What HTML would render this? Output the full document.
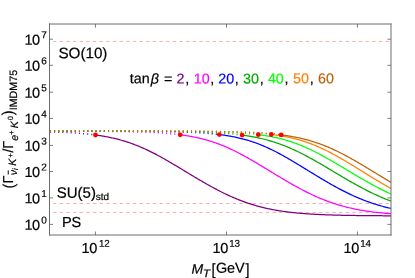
<!DOCTYPE html>
<html><head><meta charset="utf-8"><title>plot</title>
<style>
html,body{margin:0;padding:0;background:#fff;width:415px;height:278px;overflow:hidden;}
body{width:415px;height:278px;position:relative;overflow:hidden;font-family:"Liberation Sans",sans-serif;color:#000;}
.t{position:absolute;white-space:nowrap;line-height:1;font-size:14px;text-rendering:geometricPrecision;-webkit-text-stroke:0.2px;}
</style></head><body>
<svg width="415" height="278" viewBox="0 0 415 278" style="position:absolute;left:0;top:0">
<defs><clipPath id="c"><rect x="49.50" y="24.00" width="341.50" height="211.00"/></clipPath></defs>
<path d="M46.45 41.45 H389.80" stroke="#ff4040" stroke-width="0.45" stroke-dasharray="3.3 3.35" fill="none" clip-path="url(#c)"/>
<path d="M46.45 203.5 H389.80" stroke="#ff4040" stroke-width="0.45" stroke-dasharray="3.3 3.35" fill="none" clip-path="url(#c)"/>
<path d="M46.45 212.45 H389.80" stroke="#ff4040" stroke-width="0.45" stroke-dasharray="3.3 3.35" fill="none" clip-path="url(#c)"/>
<g clip-path="url(#c)" fill="none" stroke-width="1.25" stroke-linejoin="round">
<path d="M49.50 131.87 L50.50 131.90 L51.50 131.93 L52.50 131.96 L53.50 131.99 L54.50 132.02 L55.50 132.06 L56.50 132.09 L57.50 132.13 L58.50 132.16 L59.50 132.20 L60.50 132.24 L61.50 132.28 L62.50 132.33 L63.50 132.37 L64.50 132.42 L65.50 132.47 L66.50 132.52 L67.50 132.57 L68.50 132.62 L69.50 132.68 L70.50 132.73 L71.50 132.79 L72.50 132.85 L73.50 132.92 L74.50 132.98 L75.50 133.05 L76.50 133.12 L77.50 133.19 L78.50 133.27 L79.50 133.34 L80.50 133.42 L81.50 133.51 L82.50 133.59 L83.50 133.68 L84.50 133.77 L85.50 133.87 L86.50 133.96 L87.50 134.07 L88.50 134.17 L89.50 134.28 L90.50 134.39 L91.50 134.50 L92.50 134.62 L93.50 134.75 L94.50 134.87 L95.50 135.01 L95.50 135.01" stroke="#800080" stroke-width="1.5" stroke-dasharray="1.05 3.1" stroke-dashoffset="-0.4"/>
<path d="M49.50 131.11 L50.50 131.11 L51.50 131.11 L52.50 131.11 L53.50 131.11 L54.50 131.11 L55.50 131.12 L56.50 131.12 L57.50 131.12 L58.50 131.12 L59.50 131.12 L60.50 131.13 L61.50 131.13 L62.50 131.13 L63.50 131.13 L64.50 131.13 L65.50 131.14 L66.50 131.14 L67.50 131.14 L68.50 131.14 L69.50 131.15 L70.50 131.15 L71.50 131.15 L72.50 131.15 L73.50 131.16 L74.50 131.16 L75.50 131.16 L76.50 131.17 L77.50 131.17 L78.50 131.17 L79.50 131.18 L80.50 131.18 L81.50 131.19 L82.50 131.19 L83.50 131.19 L84.50 131.20 L85.50 131.20 L86.50 131.21 L87.50 131.21 L88.50 131.22 L89.50 131.22 L90.50 131.23 L91.50 131.23 L92.50 131.24 L93.50 131.25 L94.50 131.25 L95.50 131.26 L96.50 131.27 L97.50 131.27 L98.50 131.28 L99.50 131.29 L100.50 131.30 L101.50 131.30 L102.50 131.31 L103.50 131.32 L104.50 131.33 L105.50 131.34 L106.50 131.35 L107.50 131.36 L108.50 131.37 L109.50 131.38 L110.50 131.39 L111.50 131.40 L112.50 131.42 L113.50 131.43 L114.50 131.44 L115.50 131.45 L116.50 131.47 L117.50 131.48 L118.50 131.50 L119.50 131.51 L120.50 131.53 L121.50 131.54 L122.50 131.56 L123.50 131.58 L124.50 131.60 L125.50 131.62 L126.50 131.64 L127.50 131.66 L128.50 131.68 L129.50 131.70 L130.50 131.72 L131.50 131.74 L132.50 131.77 L133.50 131.79 L134.50 131.82 L135.50 131.85 L136.50 131.87 L137.50 131.90 L138.50 131.93 L139.50 131.96 L140.50 132.00 L141.50 132.03 L142.50 132.06 L143.50 132.10 L144.50 132.13 L145.50 132.17 L146.50 132.21 L147.50 132.25 L148.50 132.30 L149.50 132.34 L150.50 132.39 L151.50 132.43 L152.50 132.48 L153.50 132.53 L154.50 132.58 L155.50 132.64 L156.50 132.69 L157.50 132.75 L158.50 132.81 L159.50 132.87 L160.50 132.94 L161.50 133.01 L162.50 133.07 L163.50 133.15 L164.50 133.22 L165.50 133.30 L166.50 133.38 L167.50 133.46 L168.50 133.54 L169.50 133.63 L170.50 133.72 L171.50 133.82 L172.50 133.91 L173.50 134.01 L174.50 134.12 L175.50 134.23 L176.50 134.34 L177.50 134.45 L178.50 134.57 L179.50 134.70 L180.20 134.78" stroke="#ff00ff" stroke-width="1.5" stroke-dasharray="1.05 3.1" stroke-dashoffset="-0.4"/>
<path d="M49.50 131.08 L50.50 131.08 L51.50 131.08 L52.50 131.08 L53.50 131.08 L54.50 131.08 L55.50 131.08 L56.50 131.08 L57.50 131.08 L58.50 131.08 L59.50 131.08 L60.50 131.08 L61.50 131.08 L62.50 131.08 L63.50 131.08 L64.50 131.08 L65.50 131.09 L66.50 131.09 L67.50 131.09 L68.50 131.09 L69.50 131.09 L70.50 131.09 L71.50 131.09 L72.50 131.09 L73.50 131.09 L74.50 131.09 L75.50 131.09 L76.50 131.09 L77.50 131.09 L78.50 131.09 L79.50 131.09 L80.50 131.10 L81.50 131.10 L82.50 131.10 L83.50 131.10 L84.50 131.10 L85.50 131.10 L86.50 131.10 L87.50 131.10 L88.50 131.10 L89.50 131.11 L90.50 131.11 L91.50 131.11 L92.50 131.11 L93.50 131.11 L94.50 131.11 L95.50 131.11 L96.50 131.12 L97.50 131.12 L98.50 131.12 L99.50 131.12 L100.50 131.12 L101.50 131.12 L102.50 131.13 L103.50 131.13 L104.50 131.13 L105.50 131.13 L106.50 131.13 L107.50 131.14 L108.50 131.14 L109.50 131.14 L110.50 131.14 L111.50 131.15 L112.50 131.15 L113.50 131.15 L114.50 131.15 L115.50 131.16 L116.50 131.16 L117.50 131.16 L118.50 131.17 L119.50 131.17 L120.50 131.17 L121.50 131.18 L122.50 131.18 L123.50 131.19 L124.50 131.19 L125.50 131.20 L126.50 131.20 L127.50 131.20 L128.50 131.21 L129.50 131.21 L130.50 131.22 L131.50 131.22 L132.50 131.23 L133.50 131.24 L134.50 131.24 L135.50 131.25 L136.50 131.25 L137.50 131.26 L138.50 131.27 L139.50 131.27 L140.50 131.28 L141.50 131.29 L142.50 131.30 L143.50 131.31 L144.50 131.31 L145.50 131.32 L146.50 131.33 L147.50 131.34 L148.50 131.35 L149.50 131.36 L150.50 131.37 L151.50 131.38 L152.50 131.39 L153.50 131.41 L154.50 131.42 L155.50 131.43 L156.50 131.44 L157.50 131.46 L158.50 131.47 L159.50 131.49 L160.50 131.50 L161.50 131.52 L162.50 131.53 L163.50 131.55 L164.50 131.57 L165.50 131.58 L166.50 131.60 L167.50 131.62 L168.50 131.64 L169.50 131.66 L170.50 131.68 L171.50 131.71 L172.50 131.73 L173.50 131.75 L174.50 131.78 L175.50 131.80 L176.50 131.83 L177.50 131.86 L178.50 131.88 L179.50 131.91 L180.50 131.94 L181.50 131.98 L182.50 132.01 L183.50 132.04 L184.50 132.08 L185.50 132.11 L186.50 132.15 L187.50 132.19 L188.50 132.23 L189.50 132.27 L190.50 132.32 L191.50 132.36 L192.50 132.41 L193.50 132.46 L194.50 132.51 L195.50 132.56 L196.50 132.62 L197.50 132.67 L198.50 132.73 L199.50 132.79 L200.50 132.85 L201.50 132.92 L202.50 132.98 L203.50 133.05 L204.50 133.13 L205.50 133.20 L206.50 133.28 L207.50 133.36 L208.50 133.44 L209.50 133.53 L210.50 133.62 L211.50 133.71 L212.50 133.80 L213.50 133.90 L214.50 134.01 L215.50 134.11 L216.50 134.22 L217.50 134.34 L218.50 134.45 L219.30 134.55" stroke="#0000ff" stroke-width="1.5" stroke-dasharray="1.05 3.1" stroke-dashoffset="-0.4"/>
<path d="M49.50 131.07 L50.50 131.08 L51.50 131.08 L52.50 131.08 L53.50 131.08 L54.50 131.08 L55.50 131.08 L56.50 131.08 L57.50 131.08 L58.50 131.08 L59.50 131.08 L60.50 131.08 L61.50 131.08 L62.50 131.08 L63.50 131.08 L64.50 131.08 L65.50 131.08 L66.50 131.08 L67.50 131.08 L68.50 131.08 L69.50 131.08 L70.50 131.08 L71.50 131.08 L72.50 131.08 L73.50 131.08 L74.50 131.08 L75.50 131.08 L76.50 131.08 L77.50 131.08 L78.50 131.08 L79.50 131.08 L80.50 131.08 L81.50 131.08 L82.50 131.09 L83.50 131.09 L84.50 131.09 L85.50 131.09 L86.50 131.09 L87.50 131.09 L88.50 131.09 L89.50 131.09 L90.50 131.09 L91.50 131.09 L92.50 131.09 L93.50 131.09 L94.50 131.09 L95.50 131.09 L96.50 131.10 L97.50 131.10 L98.50 131.10 L99.50 131.10 L100.50 131.10 L101.50 131.10 L102.50 131.10 L103.50 131.10 L104.50 131.10 L105.50 131.10 L106.50 131.11 L107.50 131.11 L108.50 131.11 L109.50 131.11 L110.50 131.11 L111.50 131.11 L112.50 131.11 L113.50 131.12 L114.50 131.12 L115.50 131.12 L116.50 131.12 L117.50 131.12 L118.50 131.12 L119.50 131.13 L120.50 131.13 L121.50 131.13 L122.50 131.13 L123.50 131.14 L124.50 131.14 L125.50 131.14 L126.50 131.14 L127.50 131.15 L128.50 131.15 L129.50 131.15 L130.50 131.15 L131.50 131.16 L132.50 131.16 L133.50 131.16 L134.50 131.17 L135.50 131.17 L136.50 131.17 L137.50 131.18 L138.50 131.18 L139.50 131.18 L140.50 131.19 L141.50 131.19 L142.50 131.20 L143.50 131.20 L144.50 131.21 L145.50 131.21 L146.50 131.22 L147.50 131.22 L148.50 131.23 L149.50 131.23 L150.50 131.24 L151.50 131.24 L152.50 131.25 L153.50 131.26 L154.50 131.26 L155.50 131.27 L156.50 131.28 L157.50 131.29 L158.50 131.29 L159.50 131.30 L160.50 131.31 L161.50 131.32 L162.50 131.33 L163.50 131.34 L164.50 131.35 L165.50 131.36 L166.50 131.37 L167.50 131.38 L168.50 131.39 L169.50 131.40 L170.50 131.41 L171.50 131.42 L172.50 131.44 L173.50 131.45 L174.50 131.46 L175.50 131.48 L176.50 131.49 L177.50 131.50 L178.50 131.52 L179.50 131.54 L180.50 131.55 L181.50 131.57 L182.50 131.59 L183.50 131.61 L184.50 131.63 L185.50 131.65 L186.50 131.67 L187.50 131.69 L188.50 131.71 L189.50 131.73 L190.50 131.75 L191.50 131.78 L192.50 131.80 L193.50 131.83 L194.50 131.86 L195.50 131.89 L196.50 131.91 L197.50 131.94 L198.50 131.98 L199.50 132.01 L200.50 132.04 L201.50 132.07 L202.50 132.11 L203.50 132.15 L204.50 132.19 L205.50 132.22 L206.50 132.27 L207.50 132.31 L208.50 132.35 L209.50 132.40 L210.50 132.44 L211.50 132.49 L212.50 132.54 L213.50 132.59 L214.50 132.65 L215.50 132.70 L216.50 132.76 L217.50 132.82 L218.50 132.88 L219.50 132.94 L220.50 133.01 L221.50 133.08 L222.50 133.15 L223.50 133.22 L224.50 133.29 L225.50 133.37 L226.50 133.45 L227.50 133.53 L228.50 133.62 L229.50 133.71 L230.50 133.80 L231.50 133.89 L232.50 133.99 L233.50 134.09 L234.50 134.19 L235.50 134.30 L236.50 134.41 L237.50 134.52 L238.50 134.64 L239.50 134.76 L240.50 134.89 L241.50 135.02 L242.10 135.10" stroke="#00aa00" stroke-width="1.5" stroke-dasharray="1.05 3.1" stroke-dashoffset="-0.4"/>
<path d="M49.50 131.07 L50.50 131.07 L51.50 131.07 L52.50 131.07 L53.50 131.07 L54.50 131.07 L55.50 131.07 L56.50 131.07 L57.50 131.07 L58.50 131.07 L59.50 131.07 L60.50 131.07 L61.50 131.07 L62.50 131.07 L63.50 131.07 L64.50 131.07 L65.50 131.07 L66.50 131.07 L67.50 131.07 L68.50 131.07 L69.50 131.07 L70.50 131.07 L71.50 131.07 L72.50 131.08 L73.50 131.08 L74.50 131.08 L75.50 131.08 L76.50 131.08 L77.50 131.08 L78.50 131.08 L79.50 131.08 L80.50 131.08 L81.50 131.08 L82.50 131.08 L83.50 131.08 L84.50 131.08 L85.50 131.08 L86.50 131.08 L87.50 131.08 L88.50 131.08 L89.50 131.08 L90.50 131.08 L91.50 131.08 L92.50 131.08 L93.50 131.08 L94.50 131.08 L95.50 131.08 L96.50 131.08 L97.50 131.08 L98.50 131.08 L99.50 131.08 L100.50 131.08 L101.50 131.08 L102.50 131.08 L103.50 131.09 L104.50 131.09 L105.50 131.09 L106.50 131.09 L107.50 131.09 L108.50 131.09 L109.50 131.09 L110.50 131.09 L111.50 131.09 L112.50 131.09 L113.50 131.09 L114.50 131.09 L115.50 131.09 L116.50 131.09 L117.50 131.10 L118.50 131.10 L119.50 131.10 L120.50 131.10 L121.50 131.10 L122.50 131.10 L123.50 131.10 L124.50 131.10 L125.50 131.10 L126.50 131.10 L127.50 131.11 L128.50 131.11 L129.50 131.11 L130.50 131.11 L131.50 131.11 L132.50 131.11 L133.50 131.11 L134.50 131.12 L135.50 131.12 L136.50 131.12 L137.50 131.12 L138.50 131.12 L139.50 131.12 L140.50 131.13 L141.50 131.13 L142.50 131.13 L143.50 131.13 L144.50 131.13 L145.50 131.14 L146.50 131.14 L147.50 131.14 L148.50 131.14 L149.50 131.15 L150.50 131.15 L151.50 131.15 L152.50 131.16 L153.50 131.16 L154.50 131.16 L155.50 131.17 L156.50 131.17 L157.50 131.17 L158.50 131.18 L159.50 131.18 L160.50 131.18 L161.50 131.19 L162.50 131.19 L163.50 131.20 L164.50 131.20 L165.50 131.21 L166.50 131.21 L167.50 131.22 L168.50 131.22 L169.50 131.23 L170.50 131.23 L171.50 131.24 L172.50 131.24 L173.50 131.25 L174.50 131.26 L175.50 131.26 L176.50 131.27 L177.50 131.28 L178.50 131.28 L179.50 131.29 L180.50 131.30 L181.50 131.31 L182.50 131.32 L183.50 131.33 L184.50 131.34 L185.50 131.34 L186.50 131.35 L187.50 131.37 L188.50 131.38 L189.50 131.39 L190.50 131.40 L191.50 131.41 L192.50 131.42 L193.50 131.43 L194.50 131.45 L195.50 131.46 L196.50 131.48 L197.50 131.49 L198.50 131.50 L199.50 131.52 L200.50 131.54 L201.50 131.55 L202.50 131.57 L203.50 131.59 L204.50 131.61 L205.50 131.63 L206.50 131.65 L207.50 131.67 L208.50 131.69 L209.50 131.71 L210.50 131.73 L211.50 131.76 L212.50 131.78 L213.50 131.81 L214.50 131.83 L215.50 131.86 L216.50 131.89 L217.50 131.92 L218.50 131.95 L219.50 131.98 L220.50 132.02 L221.50 132.05 L222.50 132.08 L223.50 132.12 L224.50 132.16 L225.50 132.20 L226.50 132.24 L227.50 132.28 L228.50 132.32 L229.50 132.37 L230.50 132.42 L231.50 132.47 L232.50 132.52 L233.50 132.57 L234.50 132.62 L235.50 132.68 L236.50 132.74 L237.50 132.79 L238.50 132.86 L239.50 132.92 L240.50 132.99 L241.50 133.06 L242.50 133.13 L243.50 133.20 L244.50 133.28 L245.50 133.36 L246.50 133.44 L247.50 133.52 L248.50 133.61 L249.50 133.70 L250.50 133.80 L251.50 133.90 L252.50 134.00 L253.50 134.10 L254.50 134.21 L255.50 134.32 L256.50 134.44 L257.50 134.56 L258.30 134.66" stroke="#00ff00" stroke-width="1.5" stroke-dasharray="1.05 3.1" stroke-dashoffset="-0.4"/>
<path d="M49.50 131.07 L50.50 131.07 L51.50 131.07 L52.50 131.07 L53.50 131.07 L54.50 131.07 L55.50 131.07 L56.50 131.07 L57.50 131.07 L58.50 131.07 L59.50 131.07 L60.50 131.07 L61.50 131.07 L62.50 131.07 L63.50 131.07 L64.50 131.07 L65.50 131.07 L66.50 131.07 L67.50 131.07 L68.50 131.07 L69.50 131.07 L70.50 131.07 L71.50 131.07 L72.50 131.07 L73.50 131.07 L74.50 131.07 L75.50 131.07 L76.50 131.07 L77.50 131.07 L78.50 131.07 L79.50 131.07 L80.50 131.07 L81.50 131.07 L82.50 131.07 L83.50 131.07 L84.50 131.07 L85.50 131.07 L86.50 131.08 L87.50 131.08 L88.50 131.08 L89.50 131.08 L90.50 131.08 L91.50 131.08 L92.50 131.08 L93.50 131.08 L94.50 131.08 L95.50 131.08 L96.50 131.08 L97.50 131.08 L98.50 131.08 L99.50 131.08 L100.50 131.08 L101.50 131.08 L102.50 131.08 L103.50 131.08 L104.50 131.08 L105.50 131.08 L106.50 131.08 L107.50 131.08 L108.50 131.08 L109.50 131.08 L110.50 131.08 L111.50 131.08 L112.50 131.08 L113.50 131.08 L114.50 131.08 L115.50 131.08 L116.50 131.08 L117.50 131.09 L118.50 131.09 L119.50 131.09 L120.50 131.09 L121.50 131.09 L122.50 131.09 L123.50 131.09 L124.50 131.09 L125.50 131.09 L126.50 131.09 L127.50 131.09 L128.50 131.09 L129.50 131.09 L130.50 131.09 L131.50 131.09 L132.50 131.10 L133.50 131.10 L134.50 131.10 L135.50 131.10 L136.50 131.10 L137.50 131.10 L138.50 131.10 L139.50 131.10 L140.50 131.10 L141.50 131.10 L142.50 131.11 L143.50 131.11 L144.50 131.11 L145.50 131.11 L146.50 131.11 L147.50 131.11 L148.50 131.11 L149.50 131.12 L150.50 131.12 L151.50 131.12 L152.50 131.12 L153.50 131.12 L154.50 131.13 L155.50 131.13 L156.50 131.13 L157.50 131.13 L158.50 131.13 L159.50 131.14 L160.50 131.14 L161.50 131.14 L162.50 131.14 L163.50 131.15 L164.50 131.15 L165.50 131.15 L166.50 131.15 L167.50 131.16 L168.50 131.16 L169.50 131.16 L170.50 131.17 L171.50 131.17 L172.50 131.17 L173.50 131.18 L174.50 131.18 L175.50 131.19 L176.50 131.19 L177.50 131.19 L178.50 131.20 L179.50 131.20 L180.50 131.21 L181.50 131.21 L182.50 131.22 L183.50 131.22 L184.50 131.23 L185.50 131.23 L186.50 131.24 L187.50 131.25 L188.50 131.25 L189.50 131.26 L190.50 131.27 L191.50 131.27 L192.50 131.28 L193.50 131.29 L194.50 131.30 L195.50 131.30 L196.50 131.31 L197.50 131.32 L198.50 131.33 L199.50 131.34 L200.50 131.35 L201.50 131.36 L202.50 131.37 L203.50 131.38 L204.50 131.39 L205.50 131.40 L206.50 131.41 L207.50 131.43 L208.50 131.44 L209.50 131.45 L210.50 131.47 L211.50 131.48 L212.50 131.50 L213.50 131.51 L214.50 131.53 L215.50 131.54 L216.50 131.56 L217.50 131.58 L218.50 131.60 L219.50 131.62 L220.50 131.64 L221.50 131.66 L222.50 131.68 L223.50 131.70 L224.50 131.72 L225.50 131.74 L226.50 131.77 L227.50 131.79 L228.50 131.82 L229.50 131.85 L230.50 131.88 L231.50 131.90 L232.50 131.93 L233.50 131.97 L234.50 132.00 L235.50 132.03 L236.50 132.07 L237.50 132.10 L238.50 132.14 L239.50 132.18 L240.50 132.22 L241.50 132.26 L242.50 132.30 L243.50 132.35 L244.50 132.39 L245.50 132.44 L246.50 132.49 L247.50 132.54 L248.50 132.59 L249.50 132.65 L250.50 132.71 L251.50 132.77 L252.50 132.83 L253.50 132.89 L254.50 132.96 L255.50 133.02 L256.50 133.09 L257.50 133.17 L258.50 133.24 L259.50 133.32 L260.50 133.40 L261.50 133.49 L262.50 133.57 L263.50 133.66 L264.50 133.76 L265.50 133.85 L266.50 133.95 L267.50 134.06 L268.50 134.16 L269.50 134.28 L270.50 134.39 L271.30 134.48" stroke="#ff8000" stroke-width="1.5" stroke-dasharray="1.05 3.1" stroke-dashoffset="-0.4"/>
<path d="M49.50 131.07 L50.50 131.07 L51.50 131.07 L52.50 131.07 L53.50 131.07 L54.50 131.07 L55.50 131.07 L56.50 131.07 L57.50 131.07 L58.50 131.07 L59.50 131.07 L60.50 131.07 L61.50 131.07 L62.50 131.07 L63.50 131.07 L64.50 131.07 L65.50 131.07 L66.50 131.07 L67.50 131.07 L68.50 131.07 L69.50 131.07 L70.50 131.07 L71.50 131.07 L72.50 131.07 L73.50 131.07 L74.50 131.07 L75.50 131.07 L76.50 131.07 L77.50 131.07 L78.50 131.07 L79.50 131.07 L80.50 131.07 L81.50 131.07 L82.50 131.07 L83.50 131.07 L84.50 131.07 L85.50 131.07 L86.50 131.07 L87.50 131.07 L88.50 131.07 L89.50 131.07 L90.50 131.07 L91.50 131.08 L92.50 131.08 L93.50 131.08 L94.50 131.08 L95.50 131.08 L96.50 131.08 L97.50 131.08 L98.50 131.08 L99.50 131.08 L100.50 131.08 L101.50 131.08 L102.50 131.08 L103.50 131.08 L104.50 131.08 L105.50 131.08 L106.50 131.08 L107.50 131.08 L108.50 131.08 L109.50 131.08 L110.50 131.08 L111.50 131.08 L112.50 131.08 L113.50 131.08 L114.50 131.08 L115.50 131.08 L116.50 131.08 L117.50 131.08 L118.50 131.08 L119.50 131.08 L120.50 131.08 L121.50 131.08 L122.50 131.09 L123.50 131.09 L124.50 131.09 L125.50 131.09 L126.50 131.09 L127.50 131.09 L128.50 131.09 L129.50 131.09 L130.50 131.09 L131.50 131.09 L132.50 131.09 L133.50 131.09 L134.50 131.09 L135.50 131.09 L136.50 131.09 L137.50 131.10 L138.50 131.10 L139.50 131.10 L140.50 131.10 L141.50 131.10 L142.50 131.10 L143.50 131.10 L144.50 131.10 L145.50 131.10 L146.50 131.10 L147.50 131.11 L148.50 131.11 L149.50 131.11 L150.50 131.11 L151.50 131.11 L152.50 131.11 L153.50 131.11 L154.50 131.12 L155.50 131.12 L156.50 131.12 L157.50 131.12 L158.50 131.12 L159.50 131.13 L160.50 131.13 L161.50 131.13 L162.50 131.13 L163.50 131.13 L164.50 131.14 L165.50 131.14 L166.50 131.14 L167.50 131.14 L168.50 131.15 L169.50 131.15 L170.50 131.15 L171.50 131.15 L172.50 131.16 L173.50 131.16 L174.50 131.16 L175.50 131.17 L176.50 131.17 L177.50 131.17 L178.50 131.18 L179.50 131.18 L180.50 131.19 L181.50 131.19 L182.50 131.19 L183.50 131.20 L184.50 131.20 L185.50 131.21 L186.50 131.21 L187.50 131.22 L188.50 131.22 L189.50 131.23 L190.50 131.23 L191.50 131.24 L192.50 131.25 L193.50 131.25 L194.50 131.26 L195.50 131.27 L196.50 131.27 L197.50 131.28 L198.50 131.29 L199.50 131.29 L200.50 131.30 L201.50 131.31 L202.50 131.32 L203.50 131.33 L204.50 131.34 L205.50 131.35 L206.50 131.36 L207.50 131.37 L208.50 131.38 L209.50 131.39 L210.50 131.40 L211.50 131.41 L212.50 131.42 L213.50 131.44 L214.50 131.45 L215.50 131.46 L216.50 131.48 L217.50 131.49 L218.50 131.51 L219.50 131.52 L220.50 131.54 L221.50 131.56 L222.50 131.57 L223.50 131.59 L224.50 131.61 L225.50 131.63 L226.50 131.65 L227.50 131.67 L228.50 131.69 L229.50 131.71 L230.50 131.74 L231.50 131.76 L232.50 131.78 L233.50 131.81 L234.50 131.84 L235.50 131.86 L236.50 131.89 L237.50 131.92 L238.50 131.95 L239.50 131.98 L240.50 132.01 L241.50 132.05 L242.50 132.08 L243.50 132.12 L244.50 132.15 L245.50 132.19 L246.50 132.23 L247.50 132.27 L248.50 132.32 L249.50 132.36 L250.50 132.41 L251.50 132.45 L252.50 132.50 L253.50 132.55 L254.50 132.60 L255.50 132.66 L256.50 132.71 L257.50 132.77 L258.50 132.83 L259.50 132.89 L260.50 132.96 L261.50 133.02 L262.50 133.09 L263.50 133.16 L264.50 133.24 L265.50 133.31 L266.50 133.39 L267.50 133.47 L268.50 133.55 L269.50 133.64 L270.50 133.73 L271.50 133.82 L272.50 133.92 L273.50 134.02 L274.50 134.12 L275.50 134.22 L276.50 134.33 L277.50 134.44 L278.50 134.56 L279.50 134.68 L280.50 134.80 L281.20 134.89" stroke="#b8620c" stroke-width="1.5" stroke-dasharray="1.05 3.1" stroke-dashoffset="-0.4"/>
<path d="M95.50 135.01 L96.50 135.14 L97.50 135.28 L98.50 135.43 L99.50 135.57 L100.50 135.73 L101.50 135.89 L102.50 136.05 L103.50 136.22 L104.50 136.39 L105.50 136.57 L106.50 136.76 L107.50 136.95 L108.50 137.14 L109.50 137.35 L110.50 137.55 L111.50 137.77 L112.50 137.99 L113.50 138.21 L114.50 138.45 L115.50 138.69 L116.50 138.93 L117.50 139.18 L118.50 139.44 L119.50 139.71 L120.50 139.98 L121.50 140.26 L122.50 140.55 L123.50 140.85 L124.50 141.15 L125.50 141.46 L126.50 141.78 L127.50 142.10 L128.50 142.43 L129.50 142.77 L130.50 143.12 L131.50 143.47 L132.50 143.83 L133.50 144.20 L134.50 144.58 L135.50 144.96 L136.50 145.36 L137.50 145.76 L138.50 146.16 L139.50 146.58 L140.50 147.00 L141.50 147.43 L142.50 147.86 L143.50 148.31 L144.50 148.76 L145.50 149.22 L146.50 149.68 L147.50 150.15 L148.50 150.63 L149.50 151.11 L150.50 151.60 L151.50 152.10 L152.50 152.60 L153.50 153.11 L154.50 153.62 L155.50 154.14 L156.50 154.67 L157.50 155.20 L158.50 155.74 L159.50 156.28 L160.50 156.82 L161.50 157.37 L162.50 157.93 L163.50 158.49 L164.50 159.05 L165.50 159.62 L166.50 160.19 L167.50 160.76 L168.50 161.34 L169.50 161.92 L170.50 162.50 L171.50 163.09 L172.50 163.68 L173.50 164.27 L174.50 164.86 L175.50 165.46 L176.50 166.06 L177.50 166.66 L178.50 167.26 L179.50 167.86 L180.50 168.46 L181.50 169.07 L182.50 169.67 L183.50 170.28 L184.50 170.88 L185.50 171.49 L186.50 172.09 L187.50 172.70 L188.50 173.30 L189.50 173.91 L190.50 174.51 L191.50 175.12 L192.50 175.72 L193.50 176.32 L194.50 176.92 L195.50 177.51 L196.50 178.11 L197.50 178.70 L198.50 179.30 L199.50 179.89 L200.50 180.47 L201.50 181.06 L202.50 181.64 L203.50 182.22 L204.50 182.80 L205.50 183.37 L206.50 183.94 L207.50 184.50 L208.50 185.07 L209.50 185.63 L210.50 186.18 L211.50 186.73 L212.50 187.28 L213.50 187.82 L214.50 188.36 L215.50 188.89 L216.50 189.42 L217.50 189.94 L218.50 190.46 L219.50 190.98 L220.50 191.48 L221.50 191.99 L222.50 192.49 L223.50 192.98 L224.50 193.47 L225.50 193.95 L226.50 194.42 L227.50 194.89 L228.50 195.36 L229.50 195.81 L230.50 196.27 L231.50 196.71 L232.50 197.15 L233.50 197.58 L234.50 198.01 L235.50 198.43 L236.50 198.85 L237.50 199.25 L238.50 199.66 L239.50 200.05 L240.50 200.44 L241.50 200.82 L242.50 201.20 L243.50 201.57 L244.50 201.93 L245.50 202.29 L246.50 202.64 L247.50 202.98 L248.50 203.32 L249.50 203.65 L250.50 203.97 L251.50 204.29 L252.50 204.60 L253.50 204.90 L254.50 205.20 L255.50 205.49 L256.50 205.78 L257.50 206.06 L258.50 206.33 L259.50 206.60 L260.50 206.86 L261.50 207.12 L262.50 207.37 L263.50 207.61 L264.50 207.85 L265.50 208.08 L266.50 208.31 L267.50 208.53 L268.50 208.75 L269.50 208.96 L270.50 209.16 L271.50 209.36 L272.50 209.56 L273.50 209.75 L274.50 209.93 L275.50 210.11 L276.50 210.29 L277.50 210.46 L278.50 210.63 L279.50 210.79 L280.50 210.95 L281.50 211.10 L282.50 211.25 L283.50 211.39 L284.50 211.53 L285.50 211.67 L286.50 211.80 L287.50 211.93 L288.50 212.06 L289.50 212.18 L290.50 212.30 L291.50 212.41 L292.50 212.52 L293.50 212.63 L294.50 212.74 L295.50 212.84 L296.50 212.94 L297.50 213.03 L298.50 213.13 L299.50 213.22 L300.50 213.30 L301.50 213.39 L302.50 213.47 L303.50 213.55 L304.50 213.63 L305.50 213.70 L306.50 213.77 L307.50 213.84 L308.50 213.91 L309.50 213.98 L310.50 214.04 L311.50 214.10 L312.50 214.16 L313.50 214.22 L314.50 214.27 L315.50 214.33 L316.50 214.38 L317.50 214.43 L318.50 214.48 L319.50 214.53 L320.50 214.57 L321.50 214.62 L322.50 214.66 L323.50 214.70 L324.50 214.74 L325.50 214.78 L326.50 214.82 L327.50 214.86 L328.50 214.89 L329.50 214.93 L330.50 214.96 L331.50 214.99 L332.50 215.02 L333.50 215.05 L334.50 215.08 L335.50 215.11 L336.50 215.13 L337.50 215.16 L338.50 215.19 L339.50 215.21 L340.50 215.23 L341.50 215.26 L342.50 215.28 L343.50 215.30 L344.50 215.32 L345.50 215.34 L346.50 215.36 L347.50 215.38 L348.50 215.39 L349.50 215.41 L350.50 215.43 L351.50 215.44 L352.50 215.46 L353.50 215.48 L354.50 215.49 L355.50 215.50 L356.50 215.52 L357.50 215.53 L358.50 215.54 L359.50 215.56 L360.50 215.57 L361.50 215.58 L362.50 215.59 L363.50 215.60 L364.50 215.61 L365.50 215.62 L366.50 215.63 L367.50 215.64 L368.50 215.65 L369.50 215.66 L370.50 215.67 L371.50 215.67 L372.50 215.68 L373.50 215.69 L374.50 215.70 L375.50 215.70 L376.50 215.71 L377.50 215.72 L378.50 215.72 L379.50 215.73 L380.50 215.73 L381.50 215.74 L382.50 215.75 L383.50 215.75 L384.50 215.76 L385.50 215.76 L386.50 215.77 L387.50 215.77 L388.50 215.78 L389.50 215.78 L390.50 215.78 L391.50 215.79" stroke="#800080"/>
<path d="M180.20 134.78 L181.20 134.91 L182.20 135.05 L183.20 135.19 L184.20 135.33 L185.20 135.48 L186.20 135.63 L187.20 135.79 L188.20 135.96 L189.20 136.12 L190.20 136.30 L191.20 136.48 L192.20 136.66 L193.20 136.85 L194.20 137.05 L195.20 137.25 L196.20 137.46 L197.20 137.68 L198.20 137.90 L199.20 138.13 L200.20 138.36 L201.20 138.60 L202.20 138.85 L203.20 139.11 L204.20 139.37 L205.20 139.64 L206.20 139.91 L207.20 140.20 L208.20 140.49 L209.20 140.79 L210.20 141.10 L211.20 141.41 L212.20 141.73 L213.20 142.06 L214.20 142.40 L215.20 142.74 L216.20 143.10 L217.20 143.46 L218.20 143.82 L219.20 144.20 L220.20 144.58 L221.20 144.98 L222.20 145.38 L223.20 145.78 L224.20 146.20 L225.20 146.62 L226.20 147.05 L227.20 147.49 L228.20 147.93 L229.20 148.38 L230.20 148.84 L231.20 149.31 L232.20 149.78 L233.20 150.26 L234.20 150.75 L235.20 151.24 L236.20 151.74 L237.20 152.25 L238.20 152.76 L239.20 153.28 L240.20 153.80 L241.20 154.33 L242.20 154.86 L243.20 155.40 L244.20 155.95 L245.20 156.50 L246.20 157.05 L247.20 157.61 L248.20 158.17 L249.20 158.74 L250.20 159.31 L251.20 159.89 L252.20 160.46 L253.20 161.05 L254.20 161.63 L255.20 162.22 L256.20 162.81 L257.20 163.40 L258.20 164.00 L259.20 164.60 L260.20 165.20 L261.20 165.80 L262.20 166.40 L263.20 167.01 L264.20 167.61 L265.20 168.22 L266.20 168.83 L267.20 169.43 L268.20 170.04 L269.20 170.65 L270.20 171.26 L271.20 171.87 L272.20 172.48 L273.20 173.09 L274.20 173.70 L275.20 174.30 L276.20 174.91 L277.20 175.51 L278.20 176.12 L279.20 176.72 L280.20 177.32 L281.20 177.92 L282.20 178.51 L283.20 179.11 L284.20 179.70 L285.20 180.29 L286.20 180.88 L287.20 181.46 L288.20 182.04 L289.20 182.62 L290.20 183.20 L291.20 183.77 L292.20 184.34 L293.20 184.90 L294.20 185.46 L295.20 186.02 L296.20 186.57 L297.20 187.12 L298.20 187.66 L299.20 188.20 L300.20 188.73 L301.20 189.26 L302.20 189.79 L303.20 190.31 L304.20 190.82 L305.20 191.33 L306.20 191.84 L307.20 192.34 L308.20 192.83 L309.20 193.32 L310.20 193.80 L311.20 194.28 L312.20 194.75 L313.20 195.22 L314.20 195.67 L315.20 196.13 L316.20 196.57 L317.20 197.02 L318.20 197.45 L319.20 197.88 L320.20 198.30 L321.20 198.72 L322.20 199.13 L323.20 199.53 L324.20 199.93 L325.20 200.32 L326.20 200.70 L327.20 201.08 L328.20 201.45 L329.20 201.81 L330.20 202.17 L331.20 202.52 L332.20 202.86 L333.20 203.20 L334.20 203.53 L335.20 203.86 L336.20 204.18 L337.20 204.49 L338.20 204.80 L339.20 205.10 L340.20 205.39 L341.20 205.68 L342.20 205.96 L343.20 206.23 L344.20 206.50 L345.20 206.77 L346.20 207.02 L347.20 207.28 L348.20 207.52 L349.20 207.76 L350.20 208.00 L351.20 208.22 L352.20 208.45 L353.20 208.66 L354.20 208.88 L355.20 209.08 L356.20 209.29 L357.20 209.48 L358.20 209.67 L359.20 209.86 L360.20 210.04 L361.20 210.22 L362.20 210.39 L363.20 210.56 L364.20 210.72 L365.20 210.88 L366.20 211.04 L367.20 211.19 L368.20 211.33 L369.20 211.48 L370.20 211.61 L371.20 211.75 L372.20 211.88 L373.20 212.01 L374.20 212.13 L375.20 212.25 L376.20 212.36 L377.20 212.48 L378.20 212.59 L379.20 212.69 L380.20 212.79 L381.20 212.89 L382.20 212.99 L383.20 213.09 L384.20 213.18 L385.20 213.26 L386.20 213.35 L387.20 213.43 L388.20 213.51 L389.20 213.59 L390.20 213.67 L391.20 213.74" stroke="#ff00ff"/>
<path d="M219.30 134.55 L220.30 134.68 L221.30 134.81 L222.30 134.94 L223.30 135.08 L224.30 135.22 L225.30 135.37 L226.30 135.52 L227.30 135.68 L228.30 135.85 L229.30 136.02 L230.30 136.19 L231.30 136.37 L232.30 136.56 L233.30 136.75 L234.30 136.95 L235.30 137.16 L236.30 137.37 L237.30 137.59 L238.30 137.81 L239.30 138.04 L240.30 138.28 L241.30 138.53 L242.30 138.78 L243.30 139.04 L244.30 139.31 L245.30 139.59 L246.30 139.87 L247.30 140.16 L248.30 140.46 L249.30 140.77 L250.30 141.08 L251.30 141.40 L252.30 141.73 L253.30 142.07 L254.30 142.42 L255.30 142.77 L256.30 143.14 L257.30 143.51 L258.30 143.89 L259.30 144.28 L260.30 144.67 L261.30 145.08 L262.30 145.49 L263.30 145.91 L264.30 146.34 L265.30 146.77 L266.30 147.21 L267.30 147.67 L268.30 148.12 L269.30 148.59 L270.30 149.06 L271.30 149.54 L272.30 150.03 L273.30 150.52 L274.30 151.03 L275.30 151.53 L276.30 152.05 L277.30 152.57 L278.30 153.09 L279.30 153.62 L280.30 154.16 L281.30 154.70 L282.30 155.25 L283.30 155.81 L284.30 156.36 L285.30 156.93 L286.30 157.49 L287.30 158.06 L288.30 158.64 L289.30 159.22 L290.30 159.80 L291.30 160.39 L292.30 160.98 L293.30 161.57 L294.30 162.17 L295.30 162.77 L296.30 163.37 L297.30 163.97 L298.30 164.57 L299.30 165.18 L300.30 165.79 L301.30 166.40 L302.30 167.01 L303.30 167.62 L304.30 168.23 L305.30 168.85 L306.30 169.46 L307.30 170.08 L308.30 170.69 L309.30 171.30 L310.30 171.92 L311.30 172.53 L312.30 173.14 L313.30 173.75 L314.30 174.37 L315.30 174.97 L316.30 175.58 L317.30 176.19 L318.30 176.79 L319.30 177.40 L320.30 178.00 L321.30 178.60 L322.30 179.19 L323.30 179.79 L324.30 180.38 L325.30 180.97 L326.30 181.55 L327.30 182.13 L328.30 182.71 L329.30 183.29 L330.30 183.86 L331.30 184.43 L332.30 184.99 L333.30 185.55 L334.30 186.11 L335.30 186.66 L336.30 187.21 L337.30 187.75 L338.30 188.29 L339.30 188.83 L340.30 189.36 L341.30 189.88 L342.30 190.40 L343.30 190.91 L344.30 191.42 L345.30 191.93 L346.30 192.42 L347.30 192.92 L348.30 193.40 L349.30 193.88 L350.30 194.36 L351.30 194.83 L352.30 195.29 L353.30 195.75 L354.30 196.20 L355.30 196.64 L356.30 197.08 L357.30 197.52 L358.30 197.94 L359.30 198.36 L360.30 198.78 L361.30 199.18 L362.30 199.59 L363.30 199.98 L364.30 200.37 L365.30 200.75 L366.30 201.12 L367.30 201.49 L368.30 201.86 L369.30 202.21 L370.30 202.56 L371.30 202.90 L372.30 203.24 L373.30 203.57 L374.30 203.89 L375.30 204.21 L376.30 204.52 L377.30 204.83 L378.30 205.13 L379.30 205.42 L380.30 205.70 L381.30 205.98 L382.30 206.26 L383.30 206.53 L384.30 206.79 L385.30 207.04 L386.30 207.29 L387.30 207.54 L388.30 207.78 L389.30 208.01 L390.30 208.24 L391.30 208.46" stroke="#0000ff"/>
<path d="M242.10 135.10 L243.10 135.23 L244.10 135.37 L245.10 135.52 L246.10 135.67 L247.10 135.82 L248.10 135.98 L249.10 136.14 L250.10 136.31 L251.10 136.48 L252.10 136.66 L253.10 136.84 L254.10 137.03 L255.10 137.23 L256.10 137.43 L257.10 137.63 L258.10 137.84 L259.10 138.06 L260.10 138.28 L261.10 138.51 L262.10 138.75 L263.10 138.99 L264.10 139.24 L265.10 139.49 L266.10 139.75 L267.10 140.02 L268.10 140.30 L269.10 140.58 L270.10 140.87 L271.10 141.16 L272.10 141.46 L273.10 141.77 L274.10 142.09 L275.10 142.41 L276.10 142.74 L277.10 143.08 L278.10 143.42 L279.10 143.77 L280.10 144.13 L281.10 144.50 L282.10 144.87 L283.10 145.25 L284.10 145.64 L285.10 146.04 L286.10 146.44 L287.10 146.85 L288.10 147.26 L289.10 147.69 L290.10 148.12 L291.10 148.55 L292.10 149.00 L293.10 149.45 L294.10 149.90 L295.10 150.37 L296.10 150.83 L297.10 151.31 L298.10 151.79 L299.10 152.28 L300.10 152.77 L301.10 153.27 L302.10 153.78 L303.10 154.29 L304.10 154.80 L305.10 155.32 L306.10 155.85 L307.10 156.38 L308.10 156.92 L309.10 157.46 L310.10 158.00 L311.10 158.55 L312.10 159.10 L313.10 159.66 L314.10 160.22 L315.10 160.78 L316.10 161.35 L317.10 161.92 L318.10 162.49 L319.10 163.07 L320.10 163.65 L321.10 164.23 L322.10 164.81 L323.10 165.40 L324.10 165.99 L325.10 166.57 L326.10 167.16 L327.10 167.76 L328.10 168.35 L329.10 168.94 L330.10 169.54 L331.10 170.13 L332.10 170.73 L333.10 171.33 L334.10 171.92 L335.10 172.52 L336.10 173.12 L337.10 173.71 L338.10 174.31 L339.10 174.90 L340.10 175.50 L341.10 176.09 L342.10 176.68 L343.10 177.27 L344.10 177.86 L345.10 178.44 L346.10 179.03 L347.10 179.61 L348.10 180.19 L349.10 180.77 L350.10 181.34 L351.10 181.91 L352.10 182.48 L353.10 183.05 L354.10 183.61 L355.10 184.17 L356.10 184.73 L357.10 185.28 L358.10 185.83 L359.10 186.38 L360.10 186.92 L361.10 187.46 L362.10 187.99 L363.10 188.52 L364.10 189.04 L365.10 189.56 L366.10 190.08 L367.10 190.59 L368.10 191.09 L369.10 191.59 L370.10 192.09 L371.10 192.58 L372.10 193.06 L373.10 193.54 L374.10 194.01 L375.10 194.48 L376.10 194.94 L377.10 195.40 L378.10 195.85 L379.10 196.30 L380.10 196.74 L381.10 197.17 L382.10 197.60 L383.10 198.02 L384.10 198.43 L385.10 198.84 L386.10 199.24 L387.10 199.64 L388.10 200.03 L389.10 200.41 L390.10 200.79 L391.10 201.16" stroke="#00aa00"/>
<path d="M258.30 134.66 L259.30 134.78 L260.30 134.91 L261.30 135.05 L262.30 135.19 L263.30 135.34 L264.30 135.49 L265.30 135.64 L266.30 135.80 L267.30 135.97 L268.30 136.14 L269.30 136.31 L270.30 136.50 L271.30 136.68 L272.30 136.88 L273.30 137.08 L274.30 137.28 L275.30 137.49 L276.30 137.71 L277.30 137.94 L278.30 138.17 L279.30 138.41 L280.30 138.65 L281.30 138.91 L282.30 139.16 L283.30 139.43 L284.30 139.71 L285.30 139.99 L286.30 140.28 L287.30 140.57 L288.30 140.88 L289.30 141.19 L290.30 141.51 L291.30 141.83 L292.30 142.17 L293.30 142.51 L294.30 142.86 L295.30 143.22 L296.30 143.59 L297.30 143.96 L298.30 144.34 L299.30 144.73 L300.30 145.13 L301.30 145.53 L302.30 145.95 L303.30 146.37 L304.30 146.80 L305.30 147.23 L306.30 147.67 L307.30 148.12 L308.30 148.58 L309.30 149.04 L310.30 149.52 L311.30 149.99 L312.30 150.48 L313.30 150.97 L314.30 151.46 L315.30 151.97 L316.30 152.48 L317.30 152.99 L318.30 153.51 L319.30 154.04 L320.30 154.57 L321.30 155.10 L322.30 155.64 L323.30 156.19 L324.30 156.74 L325.30 157.29 L326.30 157.85 L327.30 158.42 L328.30 158.98 L329.30 159.55 L330.30 160.12 L331.30 160.70 L332.30 161.28 L333.30 161.86 L334.30 162.44 L335.30 163.03 L336.30 163.62 L337.30 164.21 L338.30 164.80 L339.30 165.39 L340.30 165.99 L341.30 166.58 L342.30 167.18 L343.30 167.78 L344.30 168.38 L345.30 168.97 L346.30 169.57 L347.30 170.17 L348.30 170.77 L349.30 171.37 L350.30 171.97 L351.30 172.56 L352.30 173.16 L353.30 173.75 L354.30 174.35 L355.30 174.94 L356.30 175.53 L357.30 176.12 L358.30 176.71 L359.30 177.29 L360.30 177.87 L361.30 178.46 L362.30 179.03 L363.30 179.61 L364.30 180.18 L365.30 180.75 L366.30 181.32 L367.30 181.88 L368.30 182.44 L369.30 183.00 L370.30 183.56 L371.30 184.11 L372.30 184.65 L373.30 185.19 L374.30 185.73 L375.30 186.27 L376.30 186.80 L377.30 187.32 L378.30 187.85 L379.30 188.36 L380.30 188.88 L381.30 189.38 L382.30 189.89 L383.30 190.39 L384.30 190.88 L385.30 191.37 L386.30 191.85 L387.30 192.33 L388.30 192.80 L389.30 193.27 L390.30 193.73 L391.30 194.19" stroke="#00ff00"/>
<path d="M271.30 134.48 L272.30 134.61 L273.30 134.73 L274.30 134.86 L275.30 135.00 L276.30 135.14 L277.30 135.28 L278.30 135.43 L279.30 135.59 L280.30 135.75 L281.30 135.91 L282.30 136.08 L283.30 136.26 L284.30 136.44 L285.30 136.63 L286.30 136.82 L287.30 137.02 L288.30 137.22 L289.30 137.44 L290.30 137.65 L291.30 137.88 L292.30 138.11 L293.30 138.35 L294.30 138.60 L295.30 138.85 L296.30 139.11 L297.30 139.38 L298.30 139.65 L299.30 139.93 L300.30 140.22 L301.30 140.52 L302.30 140.83 L303.30 141.14 L304.30 141.46 L305.30 141.79 L306.30 142.13 L307.30 142.47 L308.30 142.83 L309.30 143.19 L310.30 143.56 L311.30 143.94 L312.30 144.32 L313.30 144.72 L314.30 145.12 L315.30 145.53 L316.30 145.95 L317.30 146.38 L318.30 146.81 L319.30 147.25 L320.30 147.70 L321.30 148.16 L322.30 148.62 L323.30 149.09 L324.30 149.57 L325.30 150.06 L326.30 150.55 L327.30 151.05 L328.30 151.56 L329.30 152.07 L330.30 152.59 L331.30 153.11 L332.30 153.64 L333.30 154.18 L334.30 154.72 L335.30 155.27 L336.30 155.82 L337.30 156.38 L338.30 156.95 L339.30 157.51 L340.30 158.09 L341.30 158.66 L342.30 159.24 L343.30 159.83 L344.30 160.42 L345.30 161.01 L346.30 161.60 L347.30 162.20 L348.30 162.80 L349.30 163.41 L350.30 164.01 L351.30 164.62 L352.30 165.23 L353.30 165.84 L354.30 166.46 L355.30 167.07 L356.30 167.69 L357.30 168.31 L358.30 168.93 L359.30 169.55 L360.30 170.17 L361.30 170.79 L362.30 171.41 L363.30 172.03 L364.30 172.65 L365.30 173.27 L366.30 173.89 L367.30 174.51 L368.30 175.13 L369.30 175.74 L370.30 176.36 L371.30 176.97 L372.30 177.58 L373.30 178.19 L374.30 178.80 L375.30 179.41 L376.30 180.01 L377.30 180.61 L378.30 181.21 L379.30 181.81 L380.30 182.40 L381.30 182.99 L382.30 183.57 L383.30 184.16 L384.30 184.74 L385.30 185.31 L386.30 185.88 L387.30 186.45 L388.30 187.01 L389.30 187.57 L390.30 188.12 L391.30 188.67" stroke="#ff8000"/>
<path d="M281.20 134.89 L282.20 135.02 L283.20 135.16 L284.20 135.29 L285.20 135.44 L286.20 135.58 L287.20 135.74 L288.20 135.89 L289.20 136.06 L290.20 136.22 L291.20 136.39 L292.20 136.57 L293.20 136.75 L294.20 136.94 L295.20 137.13 L296.20 137.33 L297.20 137.53 L298.20 137.74 L299.20 137.96 L300.20 138.18 L301.20 138.41 L302.20 138.65 L303.20 138.89 L304.20 139.13 L305.20 139.39 L306.20 139.65 L307.20 139.92 L308.20 140.19 L309.20 140.47 L310.20 140.76 L311.20 141.05 L312.20 141.36 L313.20 141.67 L314.20 141.98 L315.20 142.31 L316.20 142.64 L317.20 142.98 L318.20 143.32 L319.20 143.67 L320.20 144.03 L321.20 144.40 L322.20 144.78 L323.20 145.16 L324.20 145.55 L325.20 145.95 L326.20 146.35 L327.20 146.76 L328.20 147.18 L329.20 147.61 L330.20 148.04 L331.20 148.48 L332.20 148.93 L333.20 149.38 L334.20 149.85 L335.20 150.31 L336.20 150.79 L337.20 151.27 L338.20 151.76 L339.20 152.25 L340.20 152.75 L341.20 153.25 L342.20 153.76 L343.20 154.28 L344.20 154.80 L345.20 155.33 L346.20 155.87 L347.20 156.40 L348.20 156.95 L349.20 157.49 L350.20 158.05 L351.20 158.60 L352.20 159.17 L353.20 159.73 L354.20 160.30 L355.20 160.87 L356.20 161.45 L357.20 162.03 L358.20 162.61 L359.20 163.20 L360.20 163.79 L361.20 164.38 L362.20 164.97 L363.20 165.57 L364.20 166.17 L365.20 166.77 L366.20 167.37 L367.20 167.98 L368.20 168.58 L369.20 169.19 L370.20 169.80 L371.20 170.41 L372.20 171.01 L373.20 171.62 L374.20 172.23 L375.20 172.84 L376.20 173.45 L377.20 174.06 L378.20 174.67 L379.20 175.28 L380.20 175.89 L381.20 176.50 L382.20 177.10 L383.20 177.71 L384.20 178.31 L385.20 178.91 L386.20 179.51 L387.20 180.11 L388.20 180.70 L389.20 181.30 L390.20 181.89 L391.20 182.47" stroke="#b8620c"/>
</g>
<circle cx="95.50" cy="135.01" r="2.4" fill="#ff0000"/>
<circle cx="180.20" cy="134.78" r="2.4" fill="#ff0000"/>
<circle cx="219.30" cy="134.55" r="2.4" fill="#ff0000"/>
<circle cx="242.10" cy="135.10" r="2.4" fill="#ff0000"/>
<circle cx="258.30" cy="134.66" r="2.4" fill="#ff0000"/>
<circle cx="271.30" cy="134.48" r="2.4" fill="#ff0000"/>
<circle cx="281.20" cy="134.89" r="2.4" fill="#ff0000"/>
<g stroke="#6c6c6c" stroke-width="1" fill="none"><path d="M49.5 23.5 V235.5"/><path d="M49.0 24.0 H391.5"/><path d="M391.0 23.5 V235.5"/><path d="M49.0 235.0 H391.5"/></g>
<path d="M49.5 224.40 h3.5 M391.0 224.40 h-3.6 M49.5 197.90 h3.5 M391.0 197.90 h-3.6 M49.5 171.50 h3.5 M391.0 171.50 h-3.6 M49.5 145.40 h3.5 M391.0 145.40 h-3.6 M49.5 118.40 h3.5 M391.0 118.40 h-3.6 M49.5 92.20 h3.5 M391.0 92.20 h-3.6 M49.5 65.30 h3.5 M391.0 65.30 h-3.6 M49.5 39.20 h3.5 M391.0 39.20 h-3.6 M95.45 235.0 v-3.5 M95.45 24.0 v3.7 M226.50 235.0 v-3.5 M226.50 24.0 v3.7 M357.45 235.0 v-3.5 M357.45 24.0 v3.7" stroke="#606060" stroke-width="0.8" fill="none"/>
</svg>
<div style="position:absolute;left:0;top:0;width:415px;height:278px;overflow:hidden;will-change:transform;">
<div class="t" style="left:24px;top:218px;font-size:14.5px;letter-spacing:-0.4px;transform:translate(0.45px,0.87px) rotate(0.1deg);transform-origin:0 0;">10</div>
<div class="t" style="left:41px;top:216px;font-size:10px;transform:translate(0.23px,0.40px) rotate(0.1deg);transform-origin:0 0;">0</div>
<div class="t" style="left:24px;top:192px;font-size:14.5px;letter-spacing:-0.4px;transform:translate(0.45px,0.37px) rotate(0.1deg);transform-origin:0 0;">10</div>
<div class="t" style="left:41px;top:189px;font-size:10px;transform:translate(0.23px,0.90px) rotate(0.1deg);transform-origin:0 0;">1</div>
<div class="t" style="left:24px;top:165px;font-size:14.5px;letter-spacing:-0.4px;transform:translate(0.45px,0.97px) rotate(0.1deg);transform-origin:0 0;">10</div>
<div class="t" style="left:41px;top:163px;font-size:10px;transform:translate(0.23px,0.50px) rotate(0.1deg);transform-origin:0 0;">2</div>
<div class="t" style="left:24px;top:139px;font-size:14.5px;letter-spacing:-0.4px;transform:translate(0.45px,0.87px) rotate(0.1deg);transform-origin:0 0;">10</div>
<div class="t" style="left:41px;top:137px;font-size:10px;transform:translate(0.23px,0.40px) rotate(0.1deg);transform-origin:0 0;">3</div>
<div class="t" style="left:24px;top:112px;font-size:14.5px;letter-spacing:-0.4px;transform:translate(0.45px,0.87px) rotate(0.1deg);transform-origin:0 0;">10</div>
<div class="t" style="left:41px;top:110px;font-size:10px;transform:translate(0.23px,0.40px) rotate(0.1deg);transform-origin:0 0;">4</div>
<div class="t" style="left:24px;top:86px;font-size:14.5px;letter-spacing:-0.4px;transform:translate(0.45px,0.67px) rotate(0.1deg);transform-origin:0 0;">10</div>
<div class="t" style="left:41px;top:84px;font-size:10px;transform:translate(0.23px,0.20px) rotate(0.1deg);transform-origin:0 0;">5</div>
<div class="t" style="left:24px;top:59px;font-size:14.5px;letter-spacing:-0.4px;transform:translate(0.45px,0.77px) rotate(0.1deg);transform-origin:0 0;">10</div>
<div class="t" style="left:41px;top:57px;font-size:10px;transform:translate(0.23px,0.30px) rotate(0.1deg);transform-origin:0 0;">6</div>
<div class="t" style="left:24px;top:33px;font-size:14.5px;letter-spacing:-0.4px;transform:translate(0.45px,0.67px) rotate(0.1deg);transform-origin:0 0;">10</div>
<div class="t" style="left:41px;top:31px;font-size:10px;transform:translate(0.23px,0.20px) rotate(0.1deg);transform-origin:0 0;">7</div>
<div class="t" style="left:81px;top:241px;font-size:14.5px;letter-spacing:-0.3px;transform:translate(0.57px,0.88px) rotate(0.1deg);transform-origin:0 0;">10</div>
<div class="t" style="left:98px;top:239px;font-size:9.8px;letter-spacing:-0.3px;transform:translate(0.99px,0.64px) rotate(0.1deg);transform-origin:0 0;">12</div>
<div class="t" style="left:212px;top:241px;font-size:14.5px;letter-spacing:-0.3px;transform:translate(0.62px,0.88px) rotate(0.1deg);transform-origin:0 0;">10</div>
<div class="t" style="left:229px;top:239px;font-size:9.8px;letter-spacing:-0.3px;transform:translate(0.34px,0.64px) rotate(0.1deg);transform-origin:0 0;">13</div>
<div class="t" style="left:343px;top:241px;font-size:14.5px;letter-spacing:-0.3px;transform:translate(0.57px,0.88px) rotate(0.1deg);transform-origin:0 0;">10</div>
<div class="t" style="left:360px;top:239px;font-size:9.8px;letter-spacing:-0.3px;transform:translate(0.29px,0.64px) rotate(0.1deg);transform-origin:0 0;">14</div>
<div class="t" style="left:58px;top:46px;font-size:15.2px;transform:translate(0.49px,0.29px) rotate(0.1deg);transform-origin:0 0;">SO(10)</div>
<div class="t" style="left:56px;top:185px;font-size:15px;transform:translate(0.74px,0.78px) rotate(0.1deg);transform-origin:0 0;">SU(5)</div>
<div class="t" style="left:95px;top:192px;font-size:10px;transform:translate(0.85px,0.97px) rotate(0.1deg);transform-origin:0 0;">std</div>
<div class="t" style="left:61px;top:216px;font-size:14.5px;transform:translate(0.94px,0.06px) rotate(0.1deg);transform-origin:0 0;">PS</div>
<div class="t" style="left:129px;top:72px;font-size:14.3px;transform:translate(0.88px,0.14px) rotate(0.1deg);transform-origin:0 0;">tan</div>
<div class="t" style="left:150px;top:72px;font-size:14.3px;font-style:italic;transform:translate(0.84px,0.60px) rotate(0.1deg);transform-origin:0 0;">&beta;</div>
<div class="t" style="left:163px;top:72px;font-size:14.3px;transform:translate(0.99px,0.60px) rotate(0.1deg);transform-origin:0 0;">=</div>
<div class="t" style="left:176px;top:72px;font-size:14.3px;color:#800080;transform:translate(0.63px,0.48px) rotate(0.1deg);transform-origin:0 0;">2</div>
<div class="t" style="left:185px;top:72px;font-size:14.3px;transform:translate(0.28px,0.48px) rotate(0.1deg);transform-origin:0 0;">,</div>
<div class="t" style="left:193px;top:72px;font-size:14.3px;color:#ff00ff;transform:translate(0.72px,0.39px) rotate(0.1deg);transform-origin:0 0;">10</div>
<div class="t" style="left:210px;top:72px;font-size:14.3px;transform:translate(0.33px,0.39px) rotate(0.1deg);transform-origin:0 0;">,</div>
<div class="t" style="left:218px;top:72px;font-size:14.3px;color:#0000ff;transform:translate(0.21px,0.40px) rotate(0.1deg);transform-origin:0 0;">20</div>
<div class="t" style="left:234px;top:72px;font-size:14.3px;transform:translate(0.82px,0.40px) rotate(0.1deg);transform-origin:0 0;">,</div>
<div class="t" style="left:243px;top:72px;font-size:14.3px;color:#00aa00;transform:translate(0.07px,0.38px) rotate(0.1deg);transform-origin:0 0;">30</div>
<div class="t" style="left:259px;top:72px;font-size:14.3px;transform:translate(0.68px,0.38px) rotate(0.1deg);transform-origin:0 0;">,</div>
<div class="t" style="left:267px;top:72px;font-size:14.3px;color:#00ff00;transform:translate(0.94px,0.37px) rotate(0.1deg);transform-origin:0 0;">40</div>
<div class="t" style="left:284px;top:72px;font-size:14.3px;transform:translate(0.55px,0.37px) rotate(0.1deg);transform-origin:0 0;">,</div>
<div class="t" style="left:293px;top:72px;font-size:14.3px;color:#ff8000;transform:translate(0.12px,0.35px) rotate(0.1deg);transform-origin:0 0;">50</div>
<div class="t" style="left:309px;top:72px;font-size:14.3px;transform:translate(0.73px,0.35px) rotate(0.1deg);transform-origin:0 0;">,</div>
<div class="t" style="left:318px;top:72px;font-size:14.3px;color:#b8620c;transform:translate(0.04px,0.34px) rotate(0.1deg);transform-origin:0 0;">60</div>
<div class="t" style="left:191px;top:261px;font-size:14px;font-style:italic;transform:translate(0.43px,0.63px) rotate(0.1deg);transform-origin:0 0;">M</div>
<div class="t" style="left:202px;top:269px;font-size:11.3px;font-style:italic;transform:translate(0.80px,0.13px) rotate(0.1deg) scaleX(1.07);transform-origin:0 0;">T</div>
<div class="t" style="left:211px;top:262px;font-size:14.4px;transform:translate(0.50px,0.71px) rotate(0.1deg) scaleY(1.1);transform-origin:50% 0;">[</div>
<div class="t" style="left:215px;top:261px;font-size:14.4px;transform:translate(0.94px,0.71px) rotate(0.1deg);transform-origin:0 0;">GeV</div>
<div class="t" style="left:245px;top:262px;font-size:14.4px;transform:translate(0.40px,0.71px) rotate(0.1deg) scaleY(1.1);transform-origin:50% 0;">]</div>
<div style="position:absolute;left:0;top:0;width:0;height:0;transform:translate(13.1px,187.5px) rotate(-90deg);transform-origin:0 0;">
<div class="t" style="left:0;top:0;transform:translate(-0.94px,-10.71px) scaleY(1.09);font-size:14.4px;">(</div>
<div class="t" style="left:0;top:0;transform:translate(4.00px,-11.51px);font-size:14.4px;">&Gamma;</div>
<div class="t" style="left:0;top:0;transform:translate(12.30px,-4.26px);font-size:10.7px;font-style:italic;">&nu;</div>
<div class="t" style="left:0;top:0;transform:translate(13.06px,-5.37px);width:3.6px;height:0.75px;background:#000;"></div>
<div class="t" style="left:0;top:0;transform:translate(17.45px,-0.72px);font-size:7.5px;font-style:italic;">i</div>
<div class="t" style="left:0;top:0;transform:translate(21.63px,-4.82px);font-size:10.7px;font-style:italic;">K</div>
<div class="t" style="left:0;top:0;transform:translate(30.02px,-6.13px);font-size:7.5px;">+</div>
<div class="t" style="left:0;top:0;transform:translate(34.64px,-10.91px);font-size:14.4px;">/</div>
<div class="t" style="left:0;top:0;transform:translate(38.82px,-11.33px);font-size:14.4px;">&Gamma;</div>
<div class="t" style="left:0;top:0;transform:translate(46.63px,-3.03px);font-size:10.7px;font-style:italic;">e</div>
<div class="t" style="left:0;top:0;transform:translate(52.74px,-5.54px);font-size:7.5px;">+</div>
<div class="t" style="left:0;top:0;transform:translate(59.16px,-3.53px);font-size:10.7px;font-style:italic;">K</div>
<div class="t" style="left:0;top:0;transform:translate(67.15px,-6.04px);font-size:7.5px;">0</div>
<div class="t" style="left:0;top:0;transform:translate(72.32px,-11.22px) scaleY(1.09);font-size:14.4px;">)</div>
<div class="t" style="left:0;top:0;transform:translate(77.23px,-4.15px);font-size:10.7px;">IMDM75</div>
</div>
</div>
</body></html>
